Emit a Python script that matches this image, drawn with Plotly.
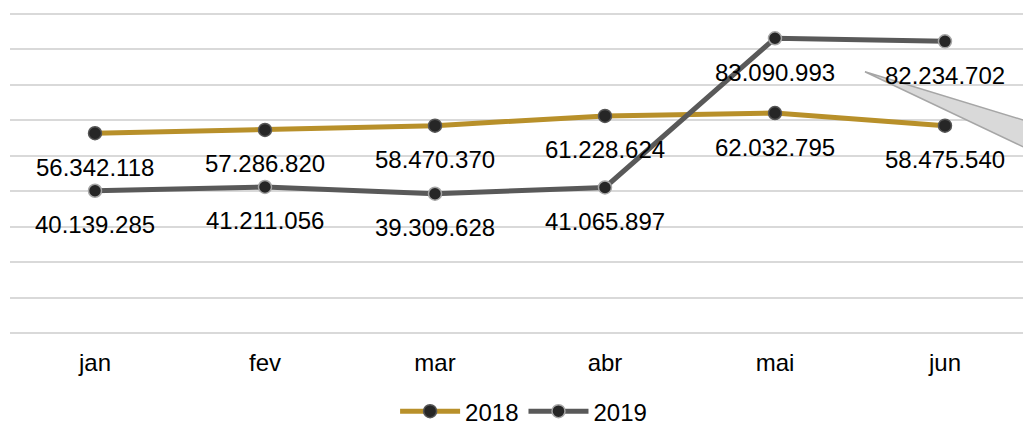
import plotly.graph_objects as go

months = ["jan", "fev", "mar", "abr", "mai", "jun"]
v2018 = [56342118, 57286820, 58470370, 61228624, 62032795, 58475540]
v2019 = [40139285, 41211056, 39309628, 41065897, 83090993, 82234702]
series_names = ["2018", "2019"]


def fmt(v):
    return f"{v:,}".replace(",", ".")


fig = go.Figure()
fig.add_trace(go.Scatter(
    x=months, y=v2018, name=series_names[0], mode="lines+markers",
    line=dict(color="#B8902A", width=5),
    marker=dict(size=13, color="#262626", line=dict(color="#555555", width=1.5)),
))
fig.add_trace(go.Scatter(
    x=months, y=v2019, name=series_names[1], mode="lines+markers",
    line=dict(color="#595959", width=5),
    marker=dict(size=13, color="#262626", line=dict(color="#a6a6a6", width=1.5)),
))

annotations = []
for vals in (v2018, v2019):
    for m, v in zip(months, vals):
        annotations.append(dict(
            x=m, y=v, xref="x", yref="y", text=fmt(v), showarrow=False,
            yshift=-34, font=dict(family="Liberation Sans, Arial", size=24, color="#000000"),
        ))

# callout leader wedge (from an off-canvas label)
fig.add_shape(
    type="path", xref="paper", yref="paper",
    path="M 0.844 0.815 L 1.005 0.661 L 1.005 0.5755 Z",
    fillcolor="#d9d9d9", line=dict(color="#a6a6a6", width=1.5), layer="above",
)

fig.update_layout(
    width=1023, height=422,
    margin=dict(l=10, r=0, t=12, b=87, autoexpand=False),
    paper_bgcolor="white", plot_bgcolor="white",
    font=dict(family="Liberation Sans, Arial", size=24, color="#000000"),
    annotations=annotations,
    showlegend=True,
    legend=dict(orientation="h", x=0.507, xanchor="center", y=-0.237, yanchor="middle",
                font=dict(size=24), itemwidth=60, traceorder="normal"),
    xaxis=dict(range=[-0.5, 5.459], showgrid=False, zeroline=False, showline=False,
               ticks="", tickfont=dict(size=24, color="#000000"), ticklabelstandoff=11,
               automargin=False),
    yaxis=dict(range=[-0.5e6, 90.5e6], dtick=10e6, tick0=0, showgrid=True, gridcolor="#d9d9d9",
               gridwidth=1.5, zeroline=True, zerolinecolor="#d9d9d9", zerolinewidth=1.5,
               showline=False, showticklabels=False, ticks="", automargin=False),
)

fig.write_html(
    "out.html",
    config={"displayModeBar": False},
    post_script="document.body.style.margin='0';document.body.style.overflow='hidden';",
)
